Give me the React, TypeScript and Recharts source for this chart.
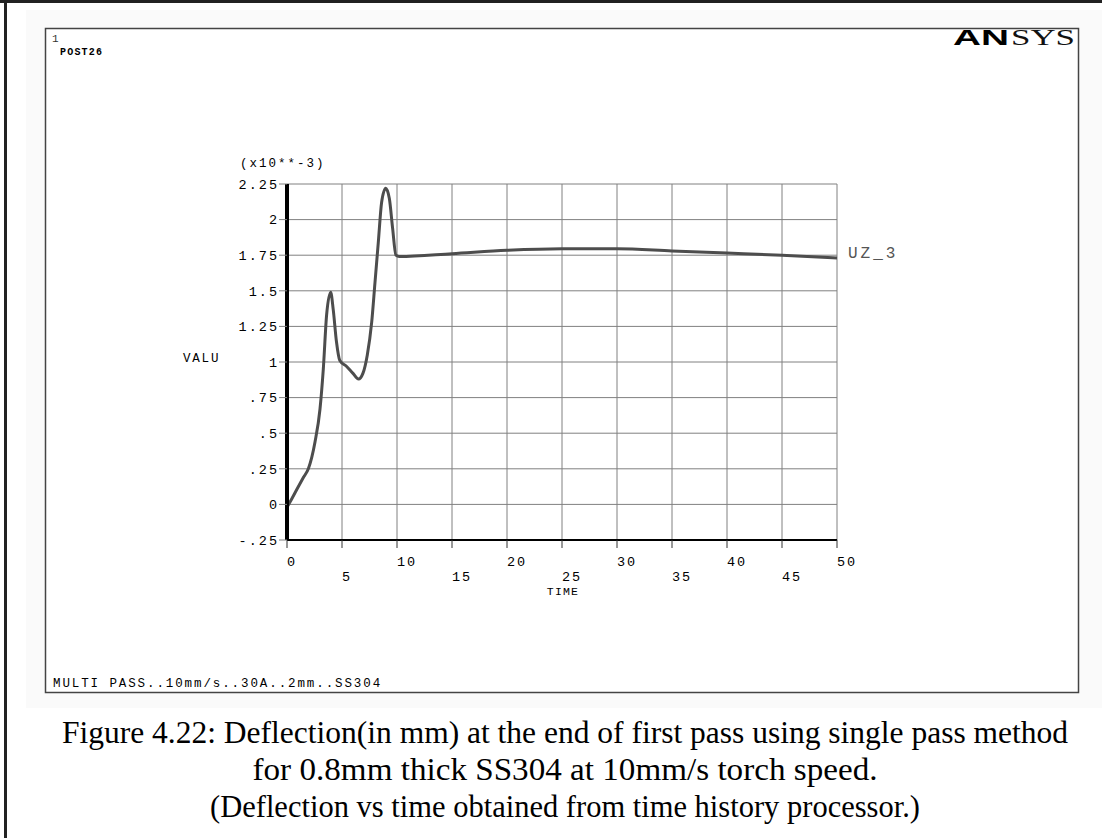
import React from 'react';
import { LineChart, Line, XAxis, YAxis, CartesianGrid } from 'recharts';

// UZ_3 deflection (x10**-3) vs TIME
const times = [0, 0.3, 1.0, 1.5, 1.94, 2.55, 3.0, 3.3, 3.6, 3.97, 4.2, 4.5, 4.8, 5.4, 6.0, 6.5, 6.9, 7.3, 7.7, 8.0, 8.3, 8.6, 8.97, 9.3, 9.6, 9.9, 10.2, 15, 20, 25, 30, 35, 40, 45, 50];
const uz3 = [-0.02, 0.02, 0.12, 0.19, 0.25, 0.44, 0.67, 0.95, 1.33, 1.49, 1.37, 1.14, 1.01, 0.97, 0.92, 0.88, 0.92, 1.05, 1.28, 1.56, 1.84, 2.12, 2.22, 2.15, 1.94, 1.75, 1.74, 1.76, 1.784, 1.795, 1.795, 1.78, 1.765, 1.75, 1.73];

const xTicks = [0, 5, 10, 15, 20, 25, 30, 35, 40, 45, 50];
const yTicks = [-0.25, 0, 0.25, 0.5, 0.75, 1, 1.25, 1.5, 1.75, 2, 2.25];
const yTickLabels = ['-.25', '0', '.25', '.5', '.75', '1', '1.25', '1.5', '1.75', '2', '2.25'];

const captionLines = [
  'Figure 4.22: Deflection(in mm) at the end of first pass using single pass method',
  'for 0.8mm thick SS304 at 10mm/s torch speed.',
  '(Deflection vs time obtained from time history processor.)',
];
const captionWidths = [1006, 625, 710];

const data = times.map((t, i) => ({ t, uz: uz3[i] }));

const MONO = '"Liberation Mono", "DejaVu Sans Mono", monospace';
const SERIF = '"Liberation Serif", "Times New Roman", serif';

const XTick = (props: any) => {
  const { x, y, payload, index } = props;
  const row = index % 2 === 0 ? 11 : 26;
  return (
    <text x={x} y={y + row} dy="0.35em" textAnchor="start" fontFamily={MONO} fontSize={13.5} letterSpacing={2} fill="#000">
      {payload.value}
    </text>
  );
};

const YTick = (props: any) => {
  const { x, y, payload } = props;
  const i = yTicks.indexOf(payload.value);
  return (
    <text x={x} y={y} dy="0.35em" textAnchor="end" fontFamily={MONO} fontSize={13.5} letterSpacing={2} fill="#000">
      {i >= 0 ? yTickLabels[i] : payload.value}
    </text>
  );
};

export default function App() {
  return (
    <div style={{ position: 'absolute', left: 0, top: 0, width: 1102, height: 838, background: '#fff', overflow: 'hidden' }}>
      <svg width={1102} height={838} style={{ position: 'absolute', left: 0, top: 0, display: 'block' }}>
        <rect x={26} y={10} width={1076} height={698} fill="#fafafa" />
        <rect x={45.5} y={28.5} width={1033} height={664} fill="#fff" stroke="#444" strokeWidth={1.5} />
        <rect x={0} y={0} width={1102} height={3} fill="#222" />
        <rect x={4} y={0} width={3} height={838} fill="#222" />

        <text x={52} y={42} fontFamily={MONO} fontSize={11} fill="#333">1</text>
        <text x={60} y={55} fontFamily={MONO} fontSize={10} fontWeight="bold" letterSpacing={1.2} fill="#000">POST26</text>

        <text x={953} y={45} fontFamily='"Liberation Sans", Arial, sans-serif' fontWeight="bold" fontSize={22} textLength={56} lengthAdjust="spacingAndGlyphs" fill="#000">AN</text>
        <text x={1011} y={45} fontFamily={SERIF} fontSize={23} textLength={64} lengthAdjust="spacingAndGlyphs" fill="#111">SYS</text>

        <text x={240} y={167} fontFamily={MONO} fontSize={12.5} letterSpacing={2} fill="#000">(x10**-3)</text>
        <text x={183} y={362} fontFamily={MONO} fontSize={12.5} letterSpacing={1.8} fill="#000">VALU</text>
        <text x={563} y={595} textAnchor="middle" fontFamily={MONO} fontSize={11.5} letterSpacing={1.2} fill="#000">TIME</text>
        <text x={848} y={258} fontFamily={MONO} fontSize={16} letterSpacing={3} fill="#555">UZ_3</text>
        <text x={53} y={687} fontFamily={MONO} fontSize={12.5} letterSpacing={1.9} fill="#000">MULTI PASS..10mm/s..30A..2mm..SS304</text>

        {captionLines.map((line, i) => (
          <text key={i} x={565} y={743 + i * 37} textAnchor="middle" fontFamily={SERIF} fontSize={32} textLength={captionWidths[i]} lengthAdjust="spacingAndGlyphs" fill="#000">
            {line}
          </text>
        ))}
      </svg>

      <div style={{ position: 'absolute', left: 0, top: 0 }}>
        <LineChart width={1102} height={838} data={data} margin={{ top: 184, right: 265, bottom: 248, left: 227 }}>
          <CartesianGrid stroke="#808080" strokeWidth={1} />
          <XAxis
            dataKey="t"
            type="number"
            domain={[0, 50]}
            ticks={xTicks}
            interval={0}
            height={50}
            axisLine={{ stroke: '#000', strokeWidth: 2 }}
            tickLine={{ stroke: '#333' }}
            tickSize={8}
            tick={<XTick />}
          />
          <YAxis
            type="number"
            domain={[-0.25, 2.25]}
            ticks={yTicks}
            interval={0}
            width={60}
            axisLine={{ stroke: '#000', strokeWidth: 4 }}
            tickLine={{ stroke: '#808080' }}
            tickSize={8}
            tickMargin={0}
            tick={<YTick />}
          />
          <Line type="monotone" dataKey="uz" stroke="#4d4d4d" strokeWidth={3} dot={false} isAnimationActive={false} />
        </LineChart>
      </div>
    </div>
  );
}
